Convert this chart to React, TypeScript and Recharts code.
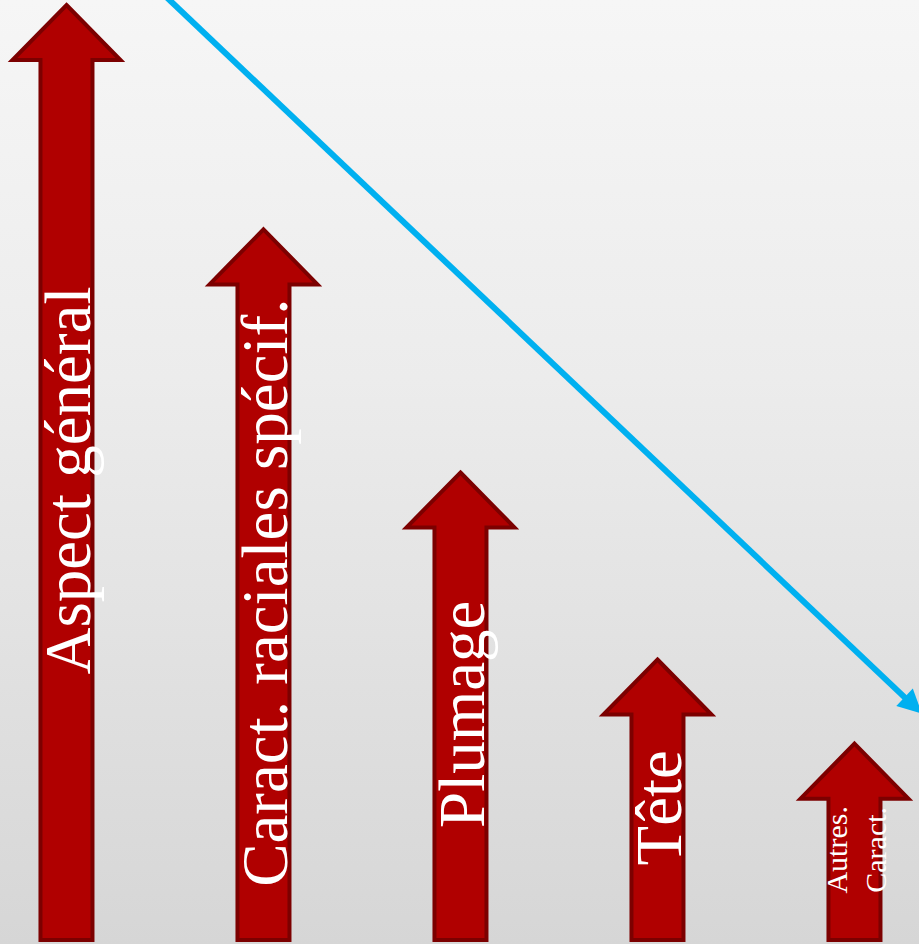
import { Bar, ComposedChart, ReferenceLine, XAxis, YAxis } from "recharts"

// criteria shown in each arrow (one entry per text line)
const criteria = [
  ["Aspect général"],
  ["Caract. raciales spécif."],
  ["Plumage"],
  ["Tête"],
  ["Autres.", "Caract."],
]
// relative importance of each criterion
const weights = [100, 76, 50, 30, 21]
// decreasing trend line end points
const trendStart = { x: 0.472, y: 101.5 }
const trendEnd = { x: 4.34, y: 24.2 }

const data = criteria.map((lines, i) => ({ pos: i, lines, weight: weights[i] }))

const RED = "#b00000"
const DARK_RED = "#7c0000"
const BLUE = "#00b0f0"
const SERIF = "Liberation Serif, Times New Roman, Times, serif"

function ArrowShape(props: any) {
  const { x, y, width, height, payload } = props
  const cx = x + width / 2
  const half = width / 2
  const head = 54
  const headH = 55
  const bottom = y + height
  const pts = [
    [cx, y],
    [cx + head, y + headH],
    [cx + half, y + headH],
    [cx + half, bottom],
    [cx - half, bottom],
    [cx - half, y + headH],
    [cx - head, y + headH],
  ]
    .map((p) => p.join(","))
    .join(" ")

  const lines: string[] = payload.lines
  const multi = lines.length > 1
  const fontSize = multi ? 30 : 65
  const cy = y + height / 2 + 8

  return (
    <g>
      <polygon points={pts} fill={RED} stroke={DARK_RED} strokeWidth={4} strokeLinejoin="miter" />
      {lines.map((line, i) => {
        const bx = multi ? cx - 7 + i * 39 : cx + 24
        return (
          <text
            key={i}
            x={bx}
            y={cy}
            transform={`rotate(-90 ${bx} ${cy})`}
            textAnchor="middle"
            fill="#ffffff"
            fontSize={fontSize}
            style={{ fontFamily: SERIF }}
          >
            {line}
          </text>
        )
      })}
    </g>
  )
}

function TrendArrow(props: any) {
  const { x1, y1, x2, y2 } = props
  const ang = Math.atan2(y2 - y1, x2 - x1)
  const len = 24
  const w = 12
  const bx = x2 - Math.cos(ang) * len
  const by = y2 - Math.sin(ang) * len
  const nx = -Math.sin(ang) * w
  const ny = Math.cos(ang) * w
  return (
    <g>
      <line x1={x1} y1={y1} x2={bx + Math.cos(ang) * 2} y2={by + Math.sin(ang) * 2} stroke={BLUE} strokeWidth={6} />
      <polygon points={`${x2},${y2} ${bx + nx},${by + ny} ${bx - nx},${by - ny}`} fill={BLUE} />
    </g>
  )
}

export default function App() {
  return (
    <div
      style={{
        position: "absolute",
        left: 0,
        top: 0,
        width: 919,
        height: 944,
        overflow: "hidden",
        background: "linear-gradient(to bottom, #f6f6f6 0%, #ececec 40%, #d6d6d6 100%)",
      }}
    >
      <ComposedChart width={919} height={944} data={data} margin={{ top: 5, right: 0, bottom: 4, left: 0 }}>
        <XAxis dataKey="pos" type="number" domain={[-0.34, 4.325]} hide />
        <YAxis type="number" domain={[0, 100]} hide />
        <Bar dataKey="weight" barSize={52} shape={<ArrowShape />} isAnimationActive={false} />
        <ReferenceLine segment={[trendStart, trendEnd]} ifOverflow="visible" shape={<TrendArrow />} />
      </ComposedChart>
    </div>
  )
}
